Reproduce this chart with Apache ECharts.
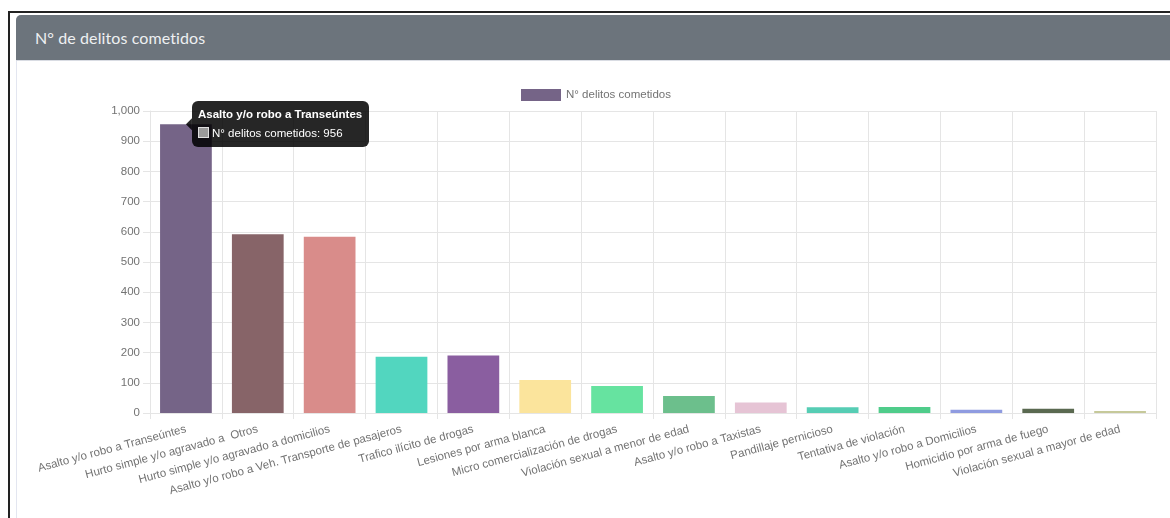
<!DOCTYPE html>
<html>
<head>
<meta charset="utf-8">
<script src="https://cdn.jsdelivr.net/npm/echarts@6/dist/echarts.min.js"></script>
<style>
  html, body { margin: 0; padding: 0; width: 1170px; height: 518px; overflow: hidden; background: #fff; }
  #frame { position: absolute; left: 8px; top: 11px; width: 1170px; height: 520px; border-left: 2px solid #222; border-top: 2px solid #222; }
  #card { position: absolute; left: 16px; top: 15px; width: 1160px; height: 520px; border-left: 1px solid #e3e6f0; border-top: 1px solid #e3e6f0; border-top-left-radius: 5px; }
  #cardHeader { position: absolute; left: 16px; top: 15px; width: 1160px; height: 45px; background: #6c747c; border-top-left-radius: 5px; border-bottom: 1px solid #d9dce3; }
  #cardTitle { position: absolute; left: 35px; top: 28px; font-family: Lato, "Open Sans", sans-serif; font-size: 16px; color: #eef0f2; letter-spacing: 0.1px; }
  #chart { position: absolute; left: 0; top: 0; width: 1170px; height: 518px; }
</style>
</head>
<body>
<div id="frame"></div>
<div id="card"></div>
<div id="cardHeader"></div>
<div id="cardTitle">N° de delitos cometidos</div>
<div id="chart"></div>
<script>
// Crime types and counts
const categories = [
  'Asalto y/o robo a Transeúntes',
  'Hurto simple y/o agravado a  Otros',
  'Hurto simple y/o agravado a domicilios',
  'Asalto y/o robo a Veh. Transporte de pasajeros',
  'Trafico ilícito de drogas',
  'Lesiones por arma blanca',
  'Micro comercialización de drogas',
  'Violación sexual a menor de edad',
  'Asalto y/o robo a Taxistas',
  'Pandillaje pernicioso',
  'Tentativa de violación',
  'Asalto y/o robo a Domicilios',
  'Homicidio por arma de fuego',
  'Violación sexual a mayor de edad'
];
const values = [956, 592, 584, 186, 190, 109, 89, 56, 35, 19, 20, 11, 14, 7];
const barColors = [
  '#756487', '#876468', '#d98c8a', '#52d6bf', '#8a5ea0', '#fbe49c', '#66e3a0',
  '#6cbf8c', '#e6c4d5', '#56cdb4', '#4fcc8a', '#8f9be0', '#5a6950', '#c6c99a'
];
const seriesName = 'N° delitos cometidos';
const yMax = 1000;
const yStep = 100;
const tipIndex = 0;

const gridColor = '#e5e5e5';
const textColor = '#737373';
const fontFamily = '"Liberation Sans", Arial, Helvetica, sans-serif';
const tipBg = 'rgba(0,0,0,0.85)';
const caretSize = 6;

const chart = echarts.init(document.getElementById('chart'), null, { renderer: 'canvas' });

chart.setOption({
  animation: false,
  textStyle: { fontFamily: fontFamily },
  legend: {
    left: 516,
    top: 84,
    itemWidth: 40,
    itemHeight: 12,
    itemGap: 10,
    icon: 'rect',
    textStyle: { color: textColor, fontSize: 11.5, fontFamily: fontFamily },
    data: [{ name: seriesName, itemStyle: { color: barColors[0] } }]
  },
  tooltip: {
    trigger: 'item',
    triggerOn: 'none',
    alwaysShowContent: true,
    transitionDuration: 0,
    backgroundColor: tipBg,
    borderWidth: 0,
    padding: [6, 7, 7, 6],
    extraCssText: 'box-shadow:none;border-radius:6px;',
    textStyle: { color: '#fff', fontSize: 11.5, fontFamily: fontFamily },
    formatter: function (p) {
      return '<div style="font-weight:bold;line-height:14px;margin-bottom:5px;color:#fff">' + p.name + '</div>' +
        '<div style="line-height:14px;color:#fff"><span style="display:inline-block;width:9px;height:9px;' +
        'background:#9b9b9b;border:1px solid #e0e0e0;margin-right:3px;vertical-align:-1px"></span>' +
        p.seriesName + ': ' + p.value + '</div>';
    }
  },
  grid: { left: 150, right: 14, top: 111, bottom: 105, containLabel: false },
  xAxis: {
    type: 'category',
    data: categories,
    boundaryGap: true,
    axisLine: { show: true, lineStyle: { color: gridColor } },
    axisTick: { show: true, length: 6, lineStyle: { color: gridColor } },
    splitLine: { show: true, lineStyle: { color: gridColor } },
    axisLabel: {
      interval: 0,
      rotate: 15,
      margin: 16,
      color: textColor,
      fontSize: 11.5,
      fontFamily: fontFamily
    }
  },
  yAxis: {
    type: 'value',
    min: 0,
    max: yMax,
    interval: yStep,
    axisLine: { show: true, lineStyle: { color: gridColor } },
    axisTick: { show: true, length: 7, lineStyle: { color: gridColor } },
    splitLine: { show: true, lineStyle: { color: gridColor } },
    axisLabel: {
      margin: 10,
      color: textColor,
      fontSize: 11.5,
      fontFamily: fontFamily,
      formatter: function (v) { return v.toLocaleString('en-US'); }
    }
  },
  series: [{
    name: seriesName,
    type: 'bar',
    barCategoryGap: '28%',
    itemStyle: { color: barColors[0] },
    data: values.map(function (v, i) {
      return { value: v, itemStyle: { color: barColors[i] } };
    })
  }]
});

// Anchor the tooltip (and its caret) at the top centre of the highlighted bar
const anchor = chart.convertToPixel({ gridIndex: 0 }, [tipIndex, values[tipIndex]]);
const ax = anchor[0], ay = anchor[1];
chart.setOption({
  tooltip: { position: [ax + caretSize, ay - 23] },
  graphic: [{
    type: 'polygon',
    z: 100,
    silent: true,
    shape: { points: [[ax, ay], [ax + caretSize, ay - caretSize], [ax + caretSize, ay + caretSize]] },
    style: { fill: tipBg }
  }]
});

chart.dispatchAction({ type: 'showTip', seriesIndex: 0, dataIndex: tipIndex });
</script>
</body>
</html>
